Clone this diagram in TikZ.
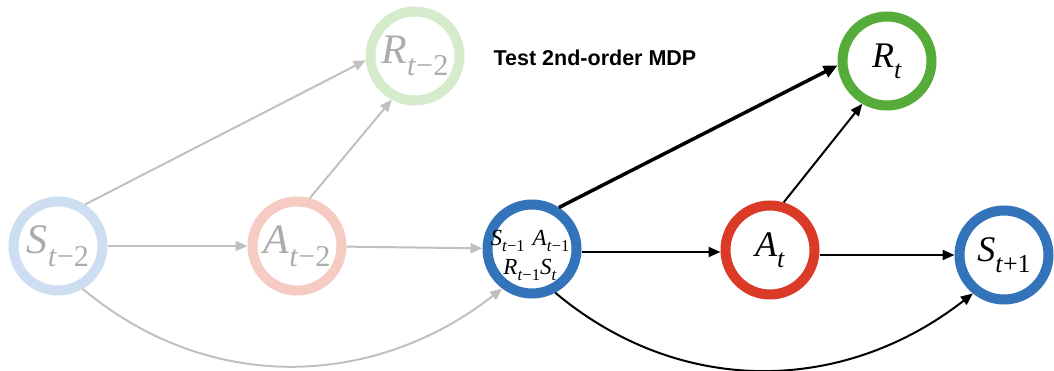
\RequirePackage{fix-cm}
\documentclass[tikz,border=0pt]{standalone}
\usepackage{fontspec}
\usepackage{graphicx}
\usetikzlibrary{arrows.meta}
\setmainfont{Liberation Serif}
\newfontfamily\titlefont{Liberation Sans}

% italic symbol with a lowered, smaller subscript
\newcommand\vlab[2]{\textit{#1}\raisebox{-0.3em}{\scalebox{0.72}{#2}}}

\definecolor{sblue}{RGB}{50,115,185}
\definecolor{ared}{RGB}{218,58,38}
\definecolor{rgreen}{RGB}{86,172,56}
\definecolor{fblue}{RGB}{204,222,240}
\definecolor{fred}{RGB}{245,203,196}
\definecolor{fgreen}{RGB}{213,236,204}
\definecolor{ftext}{RGB}{172,172,172}
\definecolor{farrow}{RGB}{192,192,192}

\tikzset{
  var/.style={circle, draw, line width=10pt, minimum size=89pt, inner sep=0pt,
    font=\rmfamily\fontsize{36}{40}\selectfont},
  oldvar/.style={var, text=ftext, font=\rmfamily\fontsize{42}{46}\selectfont},
  oldedge/.style={draw=farrow, line width=2pt, -{Triangle[length=12pt,width=10pt]}, color=farrow},
  newedge/.style={draw=black, line width=2pt, -{Triangle[length=12pt,width=10pt]}},
  boldedge/.style={draw=black, line width=3.5pt, -{Triangle[length=14pt,width=12pt]}},
  inner/.style={inner sep=0pt, anchor=base, font=\rmfamily\fontsize{23}{26}\selectfont},
}

\begin{document}
\begin{tikzpicture}[x=1pt, y=1pt]
  \useasboundingbox (0,0) rectangle (1054,370);

  % earlier time step (faded)
  \node[oldvar, draw=fblue]  (S2) at (58,124)  {\vlab{S}{\textit{t}−2}};
  \node[oldvar, draw=fred]   (A2) at (297,124) {\vlab{A}{\textit{t}−2}};
  \node[oldvar, draw=fgreen] (R2) at (415,314) {\vlab{R}{\textit{t}−2}};

  % augmented state and current step
  \node[var, draw=sblue] (B)  at (532,121) {};
  \node[inner] (B1) at (530,125) {\vlab{S}{\textit{t}−1}\hspace{0.35em}\vlab{A}{\textit{t}−1}};
  \node[inner] (B2) at (530,96) {\vlab{R}{\textit{t}−1}\vlab{S}{\textit{t}}};
  \node[var, draw=ared]   (At) at (770,120) {\vlab{A}{\textit{t}}};
  \node[var, draw=sblue]  (S1) at (1004,115) {\vlab{S}{\textit{t}+1}};
  \node[var, draw=rgreen] (Rt) at (887,309) {\vlab{R}{\textit{t}}};

  \node[font=\titlefont\bfseries\fontsize{21.5}{24}\selectfont] (title) at (595,312) {Test 2nd-order MDP};

  % faded edges
  \draw[oldedge] (S2.57) -- (R2.185);
  \draw[oldedge] (A2.75) -- (R2.-118);
  \draw[oldedge] (S2) -- (A2);
  \draw[oldedge] (A2) -- (B);
  \draw[oldedge] (S2.-60) to[out=-40,in=-142] (B.-127);

  % current edges
  \draw[boldedge] (B.57) -- (Rt.185);
  \draw[newedge] (At.74) -- (Rt.-120);
  \draw[newedge] (B.east |- 0,118) -- (At.west |- 0,118);
  \draw[newedge] (At.east |- S1) -- (S1);
  \draw[newedge] (B.-62) to[out=-40,in=-142] (S1.-129);
\end{tikzpicture}
\end{document}
